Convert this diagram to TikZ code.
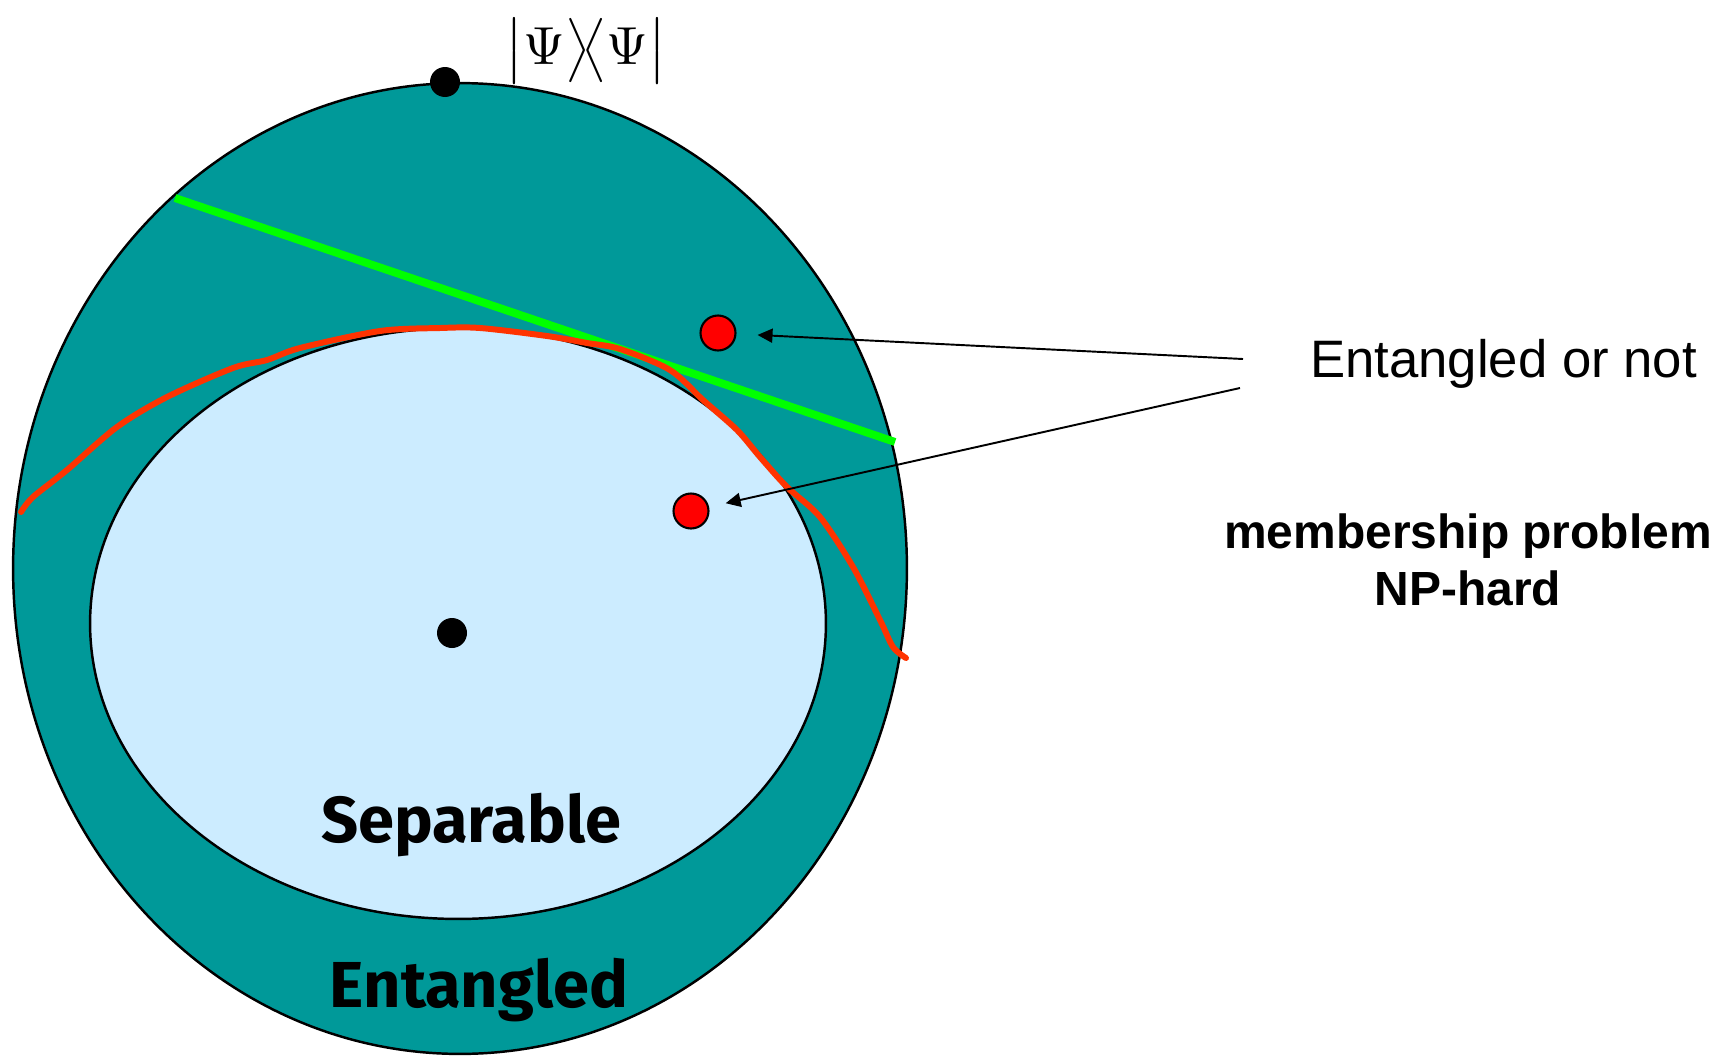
\documentclass[tikz,border=0pt]{standalone}
\usepackage{fontspec}
\setmainfont{Liberation Sans}
\newfontfamily\handfont{Fira Sans}
\usetikzlibrary{arrows.meta,positioning}

\definecolor{entteal}{HTML}{009999}
\definecolor{seplight}{HTML}{CCECFF}
\definecolor{dotred}{HTML}{FF0000}
\definecolor{curvered}{HTML}{FF3300}
\definecolor{cutgreen}{HTML}{00FF00}

\tikzset{
  blackdot/.style={circle, fill=black, inner sep=0pt, minimum size=0.6cm},
  reddot/.style={circle, draw=black, fill=dotred, line width=1.2pt, inner sep=0pt, minimum size=0.7cm},
  pointer/.style={line width=1.1pt, -{Triangle[length=0.3cm, width=0.28cm]}},
  setlabel/.style={font=\handfont\bfseries\fontsize{37}{44}\selectfont, anchor=base},
}

\begin{document}
\begin{tikzpicture}[x=0.02cm, y=-0.02cm, line width=1.4pt]
\useasboundingbox (0,0) rectangle (1734,1055);

% state space and separable set
\draw[fill=entteal] (460,568.5) ellipse [x radius=8.94cm, y radius=9.71cm];
\draw[fill=seplight] (458,623.5) ellipse [x radius=7.36cm, y radius=5.91cm];

% witness and approximation
\draw[cutgreen, line width=4.5pt] (175,198) -- (895,442);
\draw[curvered, line width=3.4pt, line cap=round] plot[smooth] coordinates {
  (21,512) (33,497) (67,470) (117,427) (167,397) (233,368) (267,360) (300,348)
  (380,331) (440,328) (480,328) (547,336) (587,343) (620,349) (670,370) (703,400)
  (737,430) (760,457) (787,487) (820,517) (853,567) (880,620) (893,647) (906,658)};

\node[blackdot] (pure) at (445,82) {};
\node[blackdot] (mixed) at (452,633) {};
\node[reddot] (test1) at (718,333) {};
\node[reddot] (test2) at (691,511) {};

\node[scale=3.05, transform shape, inner sep=0pt] (psi) at (586,51) {$\big|\Psi\big\rangle\!\big\langle\Psi\big|$};
\node[setlabel] (sep) at (471,842) {Separable};
\node[setlabel] (ent) at (479,1007) {Entangled};

\node[anchor=base west, font=\fontsize{30}{36}\selectfont] (question) at (1303,377) {Entangled or not};
\coordinate (q1) at (1243,359);
\coordinate (q2) at (1240,388);
\draw[pointer, shorten >=0.42cm] (q1) -- (test1);
\draw[pointer, shorten >=0.34cm] (q2) -- (test2);

\node[anchor=base, font=\bfseries\fontsize{27.3}{33}\selectfont] (member) at (1468,548) {membership problem};
\node[anchor=base, font=\bfseries\fontsize{27.3}{33}\selectfont] (nphard) at (1468,605) {NP-hard};
\end{tikzpicture}
\end{document}
